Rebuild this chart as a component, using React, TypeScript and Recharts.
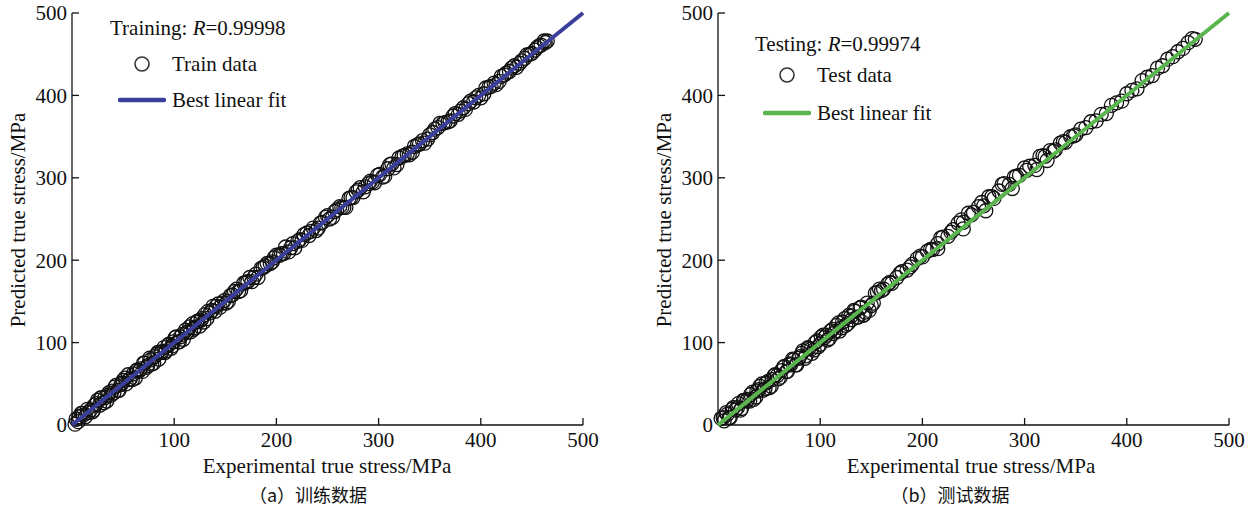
import React from "react"
import { ScatterChart, Scatter, XAxis, YAxis } from "recharts"

// (a) training set: experimental vs predicted true stress (MPa)
const trainExp = [
  4, 6, 9, 11, 13, 15, 18, 20, 22, 25,
  27, 29, 32, 34, 36, 39, 41, 43, 46, 48,
  50, 53, 55, 57, 60, 62, 64, 67, 69, 71,
  74, 76, 78, 81, 83, 85, 88, 90, 92, 95,
  97, 99, 102, 104, 106, 109, 111, 113, 116, 118,
  120, 123, 125, 127, 130, 132, 135, 138, 141, 145,
  149, 153, 157, 161, 165, 170, 174, 178, 182, 187,
  191, 196, 200, 205, 209, 214, 218, 223, 227, 232,
  236, 241, 245, 250, 255, 259, 264, 268, 273, 278,
  282, 287, 292, 296, 301, 306, 311, 315, 320, 325,
  330, 335, 340, 345, 350, 355, 360, 365, 370, 375,
  380, 385, 390, 395, 400, 405, 410, 415, 420, 425,
  430, 435, 440, 445, 450, 455, 459, 462, 465,
  3, 7, 10, 16, 21, 24, 28, 31, 35, 38,
  42, 45, 49, 52, 56, 59, 63, 66, 70, 73,
  77, 80, 84, 87, 91, 94, 98, 101, 105, 108,
  112, 115, 119, 122, 126, 129, 133, 137, 140, 143,
  147, 151, 155, 159, 163, 168, 172, 176, 180, 185,
  189, 194, 198, 203, 207, 212, 216, 221, 225, 230,
  234, 239, 243, 248, 252, 257, 262, 266, 271, 275,
  280, 285, 290, 294, 299, 304, 309, 313, 318, 323,
  328, 333, 338, 343, 348, 353, 358, 363, 368, 373,
  378, 383, 388, 393, 398, 403, 408, 413, 418, 423,
  428, 433, 438, 443, 448, 453, 457, 463,
]
const trainPred = [
  7, 4, 14, 12, 10, 19, 18, 16, 24, 30,
  24, 33, 33, 29, 39, 41, 39, 48, 42, 49,
  54, 50, 61, 56, 62, 57, 67, 68, 65, 75,
  72, 81, 74, 83, 86, 80, 89, 94, 90, 98,
  93, 101, 107, 101, 107, 104, 115, 113, 113, 123,
  118, 126, 120, 129, 134, 129, 136, 144, 144, 143,
  151, 150, 158, 165, 163, 173, 179, 179, 179, 191,
  196, 198, 206, 208, 216, 215, 215, 225, 231, 230,
  239, 239, 246, 254, 252, 261, 264, 264, 276, 283,
  288, 289, 296, 294, 304, 302, 316, 312, 324, 327,
  328, 338, 341, 342, 352, 359, 366, 367, 369, 378,
  381, 383, 393, 397, 397, 409, 411, 413, 423, 427,
  433, 434, 442, 449, 451, 458, 461, 466, 466,
  1, 10, 14, 15, 18, 26, 33, 27, 36, 36,
  46, 42, 51, 57, 55, 55, 66, 66, 75, 70,
  79, 75, 88, 88, 88, 97, 96, 106, 101, 110,
  112, 119, 116, 125, 127, 125, 138, 139, 138, 147,
  148, 148, 157, 162, 162, 172, 174, 174, 183, 190,
  193, 196, 203, 206, 208, 210, 220, 223, 224, 233,
  235, 236, 245, 252, 250, 259, 265, 264, 275, 276,
  285, 283, 293, 295, 303, 301, 311, 317, 316, 326,
  329, 331, 340, 345, 347, 355, 361, 366, 368, 375,
  377, 385, 390, 392, 400, 402, 410, 415, 417, 425,
  429, 436, 439, 445, 450, 455, 460, 464,
]

// (b) testing set
const testExp = [
  5, 8, 11, 14, 17, 20, 23, 26, 29, 32,
  35, 38, 41, 44, 47, 50, 53, 56, 59, 62,
  65, 68, 71, 74, 77, 80, 83, 86, 89, 92,
  95, 98, 101, 104, 107, 110, 113, 116, 119, 122,
  125, 128, 131, 134, 137, 140, 143, 146, 150, 154,
  158, 162, 166, 170, 175, 180, 185, 190, 195, 200,
  205, 210, 215, 220, 225, 230, 235, 240, 245, 250,
  255, 260, 265, 270, 275, 280, 285, 290, 295, 300,
  305, 310, 315, 320, 325, 330, 335, 340, 345, 350,
  355, 360, 365, 370, 375, 380, 385, 390, 395, 400,
  405, 410, 415, 420, 425, 430, 435, 440, 445, 450,
  455, 460, 464, 467, 215, 240, 262, 288, 312, 322,
  142, 148,
  3, 6, 9, 12, 15, 19, 22, 25, 28, 31,
  34, 37, 40, 43, 46, 49, 52, 55, 58, 61,
  64, 67, 70, 73, 76, 79, 82, 85, 88, 91,
  94, 97, 100, 103, 106, 109, 112, 115, 118, 121,
  124, 127, 130, 133, 136, 139, 144, 152, 156, 160,
  168, 178, 188, 198, 208, 218, 228, 238, 248, 258,
  268, 278, 292, 302, 318, 328, 338, 348,
]
const testPred = [
  9, 15, 9, 19, 18, 26, 20, 30, 31, 37,
  31, 41, 47, 42, 51, 45, 55, 61, 56, 66,
  71, 65, 73, 79, 73, 83, 90, 84, 93, 87,
  100, 95, 107, 106, 103, 114, 111, 121, 114, 125,
  121, 133, 128, 138, 131, 143, 134, 148, 145, 160,
  165, 165, 171, 172, 179, 186, 188, 195, 202, 204,
  211, 213, 220, 228, 229, 237, 245, 246, 257, 258,
  265, 266, 277, 275, 284, 293, 292, 301, 303, 312,
  314, 315, 326, 326, 333, 334, 342, 343, 350, 352,
  359, 361, 368, 369, 377, 378, 388, 391, 393, 402,
  406, 408, 418, 422, 424, 433, 436, 444, 447, 453,
  457, 464, 469, 468, 214, 238, 260, 287, 310, 321,
  133, 139,
  8, 5, 13, 9, 21, 21, 18, 30, 29, 29,
  40, 34, 43, 50, 44, 53, 47, 60, 60, 58,
  70, 65, 74, 80, 73, 81, 87, 81, 94, 92,
  91, 102, 98, 109, 109, 105, 116, 114, 124, 118,
  129, 123, 132, 139, 131, 142, 137, 148, 161, 163,
  173, 184, 192, 205, 213, 227, 234, 249, 255, 270,
  277, 292, 302, 309, 327, 332, 344, 351,
]

const fitX = [0, 500]
const fitY = [0, 500]
const xTicks = [100, 200, 300, 400, 500]
const yTicks = [0, 100, 200, 300, 400, 500]

const serif = "'Liberation Serif', 'Times New Roman', serif"
const cjk = "'Noto Sans CJK SC', sans-serif"

const toPoints = (xs: number[], ys: number[]) => xs.map((x, i) => ({ x, y: ys[i] }))

const Ring = (props: any) => (
  <circle cx={props.cx} cy={props.cy} r={7} fill="none" stroke="#111" strokeWidth={1.3} />
)

interface PanelProps {
  left: number
  exp: number[]
  pred: number[]
  fitColor: string
  title: string
  rValue: string
  dataLabel: string
  caption: string
  legendX: number
  titleY: number
  dataY: number
  fitY: number
  xLabelX: number
  captionX: number
}

function Panel(p: PanelProps) {
  const text: React.CSSProperties = {
    position: "absolute",
    fontFamily: serif,
    fontSize: 21,
    color: "#111",
    whiteSpace: "nowrap",
    lineHeight: "22px",
  }
  return (
    <div style={{ position: "absolute", left: p.left, top: 0, width: 600, height: 510 }}>
      <ScatterChart width={600} height={510} margin={{ top: 13, right: 17, bottom: 55, left: 0 }}>
        <XAxis
          type="number"
          dataKey="x"
          domain={[0, 500]}
          ticks={xTicks}
          interval={0}
          height={30}
          axisLine={{ stroke: "#111", strokeWidth: 1.3 }}
          tickLine={{ stroke: "#111", strokeWidth: 1.3 }}
          tickSize={-7}
          tickMargin={14}
          tick={{ fill: "#111", fontSize: 21, fontFamily: serif }}
        />
        <YAxis
          type="number"
          dataKey="y"
          domain={[0, 500]}
          ticks={yTicks}
          interval={0}
          width={72}
          axisLine={{ stroke: "#111", strokeWidth: 1.3 }}
          tickLine={{ stroke: "#111", strokeWidth: 1.3 }}
          tickSize={-7}
          tickMargin={12}
          tick={{ fill: "#111", fontSize: 21, fontFamily: serif }}
        />
        <Scatter data={toPoints(p.exp, p.pred)} shape={Ring} isAnimationActive={false} />
        <Scatter
          data={toPoints(fitX, fitY)}
          line={{ stroke: p.fitColor, strokeWidth: 4 }}
          shape={() => <g />}
          isAnimationActive={false}
        />
      </ScatterChart>

      {/* legend */}
      <div style={{ ...text, left: p.legendX, top: p.titleY - 11 }}>
        {p.title}: <i>R</i>={p.rValue}
      </div>
      <svg style={{ position: "absolute", left: p.legendX + 22, top: p.dataY - 10 }} width={20} height={20}>
        <circle cx={10} cy={10} r={7} fill="none" stroke="#333" strokeWidth={1.6} />
      </svg>
      <div style={{ ...text, left: p.legendX + 62, top: p.dataY - 11 }}>{p.dataLabel}</div>
      <svg style={{ position: "absolute", left: p.legendX + 8, top: p.fitY - 10 }} width={48} height={20}>
        <line x1={2} y1={10} x2={46} y2={10} stroke={p.fitColor} strokeWidth={4.5} strokeLinecap="round" />
      </svg>
      <div style={{ ...text, left: p.legendX + 62, top: p.fitY - 11 }}>Best linear fit</div>

      {/* axis titles */}
      <div
        style={{
          ...text,
          left: 18 - 150,
          top: 220 - 11,
          width: 300,
          textAlign: "center",
          transform: "rotate(-90deg)",
        }}
      >
        Predicted true stress/MPa
      </div>
      <div style={{ ...text, left: p.xLabelX - 150, top: 455, width: 300, textAlign: "center" }}>
        Experimental true stress/MPa
      </div>
      <div
        style={{
          ...text,
          fontFamily: cjk,
          fontSize: 18,
          left: p.captionX - 150,
          top: 483,
          width: 300,
          textAlign: "center",
        }}
      >
        {p.caption}
      </div>
    </div>
  )
}

export default function App() {
  return (
    <div style={{ position: "absolute", left: 0, top: 0, width: 1251, height: 510, background: "#fff" }}>
      <Panel
        left={0}
        exp={trainExp}
        pred={trainPred}
        fitColor="#3b3f9c"
        title="Training"
        rValue="0.99998"
        dataLabel="Train data"
        caption="（a）训练数据"
        legendX={110}
        titleY={28}
        dataY={64}
        fitY={100}
        xLabelX={327}
        captionX={308}
      />
      <Panel
        left={646}
        exp={testExp}
        pred={testPred}
        fitColor="#5ab54e"
        title="Testing"
        rValue="0.99974"
        dataLabel="Test data"
        caption="（b）测试数据"
        legendX={109}
        titleY={44}
        dataY={75}
        fitY={113}
        xLabelX={325}
        captionX={304}
      />
    </div>
  )
}
